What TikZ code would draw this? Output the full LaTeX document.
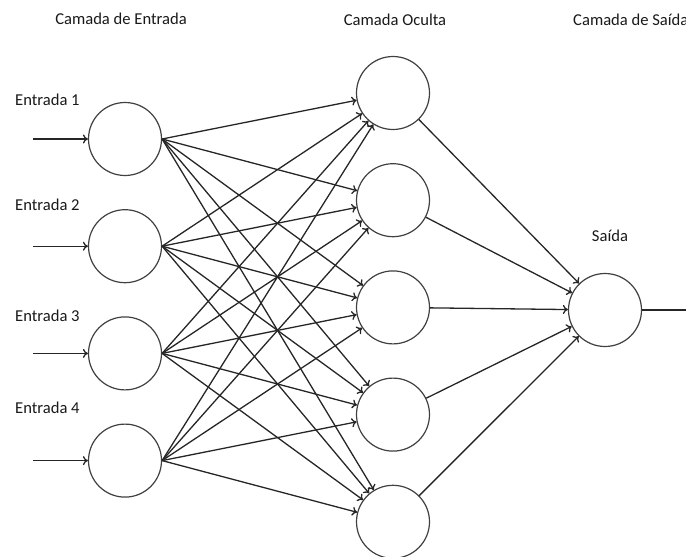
\documentclass[tikz,border=0pt]{standalone}
\usepackage{fontspec}
\setmainfont{Carlito}
\usetikzlibrary{positioning,arrows.meta}

\begin{document}
\begin{tikzpicture}[x=1pt,y=1pt,>={To[length=5pt,width=9pt]},
		neuron/.style={circle,draw=black!75,line width=1.2pt,minimum size=73pt,inner sep=0pt},
		rotulo/.style={font=\fontsize{16.6}{19}\selectfont,text=black!90,inner sep=0pt},
		ligacao/.style={->,draw=black!85,line width=1.3pt}]
		\useasboundingbox (0,0) rectangle (686,-557);

		% camada de entrada
		\node[neuron] 								(e1)	at (125,-139) {};
		\node[neuron,node distance=33pt,below=of e1] 	(e2)	{};
		\node[neuron,node distance=33pt,below=of e2] 	(e3)	{};
		\node[neuron,node distance=33pt,below=of e3] 	(e4)	{};

		% camada oculta
		\node[neuron] 								(h1)	at (393,-93) {};
		\node[neuron,node distance=33pt,below=of h1] 	(h2)	{};
		\node[neuron,node distance=33pt,below=of h2] 	(h3)	{};
		\node[neuron,node distance=33pt,below=of h3] 	(h4)	{};
		\node[neuron,node distance=33pt,below=of h4] 	(h5)	{};

		% camada de saida
		\node[neuron] 								(s)		at (605,-310) {};

		% textos
		\node[rotulo] 				(t1)	at (121,-19)	{Camada de Entrada};
		\node[rotulo] 				(t2)	at (395,-20)	{Camada Oculta};
		\node[rotulo,anchor=west] 	(t3)	at (573,-20)	{Camada de Saída};
		\node[rotulo] 				(ts)	at (610,-236)	{Saída};
		\node[rotulo,anchor=west] 	(l1)	at (15,-100)	{Entrada 1};
		\node[rotulo,anchor=west] 	(l2)	at (15,-205)	{Entrada 2};
		\node[rotulo,anchor=west] 	(l3)	at (15,-316)	{Entrada 3};
		\node[rotulo,anchor=west] 	(l4)	at (15,-408)	{Entrada 4};

		\coordinate[left=55pt of e1] (x1);
		\coordinate[left=55pt of e2] (x2);
		\coordinate[left=55pt of e3] (x3);
		\coordinate[left=55pt of e4] (x4);
		\coordinate (y) at (686,-310);

		\draw[ligacao] (x1) -- (e1);
		\draw[ligacao] (x2) -- (e2);
		\draw[ligacao] (x3) -- (e3);
		\draw[ligacao] (x4) -- (e4);

		\draw[ligacao] (e1.east) -- (h1);
		\draw[ligacao] (e1.east) -- (h2);
		\draw[ligacao] (e1.east) -- (h3);
		\draw[ligacao] (e1.east) -- (h4);
		\draw[ligacao] (e1.east) -- (h5);
		\draw[ligacao] (e2.east) -- (h1);
		\draw[ligacao] (e2.east) -- (h2);
		\draw[ligacao] (e2.east) -- (h3);
		\draw[ligacao] (e2.east) -- (h4);
		\draw[ligacao] (e2.east) -- (h5);
		\draw[ligacao] (e3.east) -- (h1);
		\draw[ligacao] (e3.east) -- (h2);
		\draw[ligacao] (e3.east) -- (h3);
		\draw[ligacao] (e3.east) -- (h4);
		\draw[ligacao] (e3.east) -- (h5);
		\draw[ligacao] (e4.east) -- (h1);
		\draw[ligacao] (e4.east) -- (h2);
		\draw[ligacao] (e4.east) -- (h3);
		\draw[ligacao] (e4.east) -- (h4);
		\draw[ligacao] (e4.east) -- (h5);

		\draw[ligacao] (h1) -- (s);
		\draw[ligacao] (h2) -- (s);
		\draw[ligacao] (h3) -- (s);
		\draw[ligacao] (h4) -- (s);
		\draw[ligacao] (h5) -- (s);

		\draw[draw=black!85,line width=1.3pt] (s) -- (y);
	\end{tikzpicture}
\end{document}
